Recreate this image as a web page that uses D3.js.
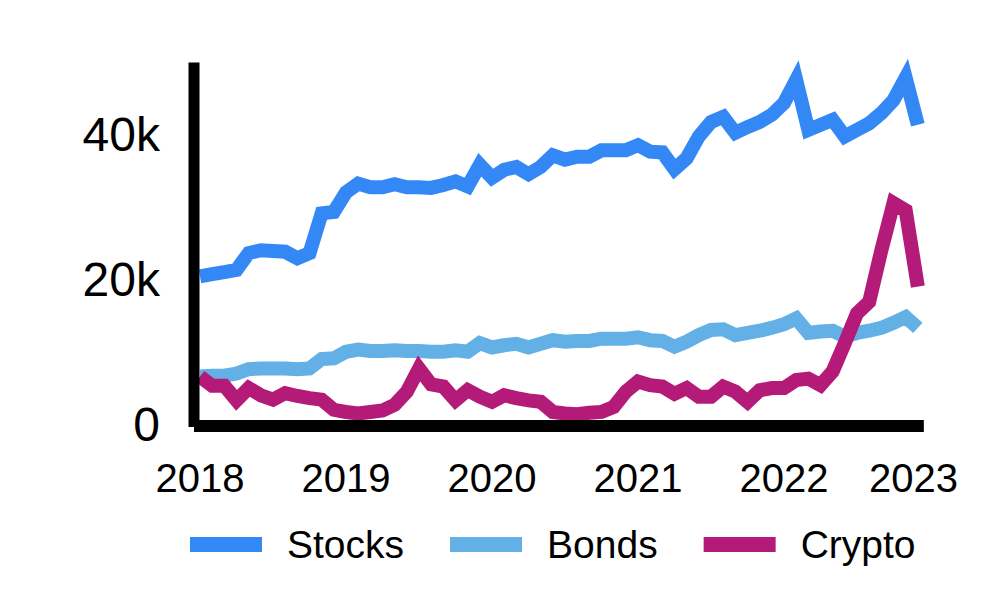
<!DOCTYPE html>
<meta charset="utf-8">
<head>
    <title>Stocks, Bonds, Crypto</title>
    <script src="https://d3js.org/d3.v7.min.js"></script>
    <style>
        body { margin: 0; background: #ffffff; }
        text { font-family: "Liberation Sans", Arial, sans-serif; fill: #000; }
    </style>
</head>
<body>
<div id="my_dataviz"></div>
<script>

// monthly values, Jan 2018 .. Dec 2022 (thousands)
var stocksVals = [20.5, 20.8, 21.1, 21.4, 23.7, 24.1, 24.0, 23.9, 23.0, 23.7, 29.2, 29.4,
              32.1, 33.3, 32.8, 32.8, 33.2, 32.8, 32.8, 32.7, 33.1, 33.6, 32.9, 35.9,
              34.1, 35.2, 35.6, 34.6, 35.6, 37.2, 36.6, 37.0, 37.0, 37.9, 37.9, 37.9,
              38.6, 37.7, 37.6, 35.3, 36.8, 39.8, 41.8, 42.5, 40.3, 41.1, 41.8, 42.8,
              44.4, 47.6, 40.7, 41.4, 42.1, 39.8, 40.7, 41.6, 43.0, 44.8, 47.9, 41.4];
var bondsVals = [6.7, 6.8, 6.8, 7.1, 7.7, 7.8, 7.8, 7.8, 7.7, 7.8, 9.1, 9.2,
             10.1, 10.4, 10.2, 10.2, 10.3, 10.2, 10.2, 10.1, 10.1, 10.3, 10.1, 11.3,
             10.7, 11.0, 11.2, 10.7, 11.2, 11.7, 11.5, 11.6, 11.6, 11.9, 11.9, 11.9,
             12.1, 11.7, 11.6, 10.8, 11.5, 12.4, 13.1, 13.2, 12.4, 12.7, 13.0, 13.4,
             13.9, 14.7, 12.7, 12.9, 13.0, 12.2, 12.7, 13.0, 13.4, 14.1, 14.9, 13.4];
var cryptoVals = [6.7, 5.4, 5.4, 3.4, 5.1, 4.1, 3.5, 4.4, 4.0, 3.7, 3.5, 2.1,
              1.8, 1.6, 1.8, 2.0, 2.8, 4.6, 7.8, 5.6, 5.3, 3.4, 4.8, 3.9,
              3.2, 4.1, 3.7, 3.4, 3.2, 1.8, 1.6, 1.5, 1.7, 1.8, 2.5, 4.6,
              6.0, 5.5, 5.3, 4.3, 5.1, 3.9, 3.9, 5.3, 4.6, 3.2, 4.8, 5.1,
              5.1, 6.2, 6.4, 5.5, 7.4, 11.3, 15.4, 17.0, 24.1, 30.6, 29.6, 19.1];

var seriesNames = ["Stocks", "Bonds", "Crypto"];
var seriesColors = ["#3388f6", "#62b0e5", "#b41b78"];
var yTicks = [0, 20, 40];
var yTickLabels = ["0", "20k", "40k"];
var xTickYears = [2018, 2019, 2020, 2021, 2022, 2023];

var width = 1000, height = 600;

var svg = d3.select("#my_dataviz")
    .append("svg")
    .attr("width", width)
    .attr("height", height);

var months = d3.range(stocksVals.length);

// x over month index, y in thousands
var x = d3.scaleLinear()
    .domain([0, 60])
    .range([200, 930]);
var y = d3.scaleLinear()
    .domain([0, 50])
    .range([425, 62.5]);

// Y tick labels
svg.append("g")
    .selectAll("text")
    .data(yTicks)
    .enter()
    .append("text")
    .attr("x", 160)
    .attr("y", function(d) { return y(d) + 16; })
    .attr("text-anchor", "end")
    .style("font-size", "48px")
    .text(function(d, i) { return yTickLabels[i]; });

// X tick labels (last one kept inside the frame)
svg.append("g")
    .selectAll("text")
    .data(xTickYears)
    .enter()
    .append("text")
    .attr("x", function(d) { return x((d - 2018) * 12); })
    .attr("y", 492)
    .attr("text-anchor", "middle")
    .style("font-size", "40px")
    .text(function(d) { return d; })
    .each(function() {
        var w = this.getComputedTextLength();
        var cx = +d3.select(this).attr("x");
        if (cx + w / 2 > 958) d3.select(this).attr("x", 958 - w / 2);
    });

// lines
var line = d3.line()
    .x(function(d, i) { return x(i); })
    .y(function(d) { return y(d); });

[stocksVals, bondsVals, cryptoVals].forEach(function(values, k) {
    svg.append("path")
        .datum(values)
        .attr("fill", "none")
        .attr("stroke", seriesColors[k])
        .attr("stroke-width", 14)
        .attr("stroke-linejoin", "miter")
        .attr("d", line);
});

// axis lines
svg.append("line")
    .attr("x1", x(0) - 6).attr("x2", x(0) - 6)
    .attr("y1", y(50)).attr("y2", y(0) + 2)
    .attr("stroke", "#000")
    .attr("stroke-width", 11);
svg.append("line")
    .attr("x1", x(0) - 6).attr("x2", x(months.length - 1) + 6)
    .attr("y1", y(0) + 1).attr("y2", y(0) + 1)
    .attr("stroke", "#000")
    .attr("stroke-width", 12);

// legend
var legend = svg.append("g");
var lx = 190;
seriesNames.forEach(function(name, k) {
    legend.append("rect")
        .attr("x", lx).attr("y", 537)
        .attr("width", 72).attr("height", 15)
        .style("fill", seriesColors[k]);
    var t = legend.append("text")
        .attr("x", lx + 97).attr("y", 558)
        .style("font-size", "39px")
        .text(name);
    lx += 97 + t.node().getComputedTextLength() + 46;
});

</script>
</body>
</html>
